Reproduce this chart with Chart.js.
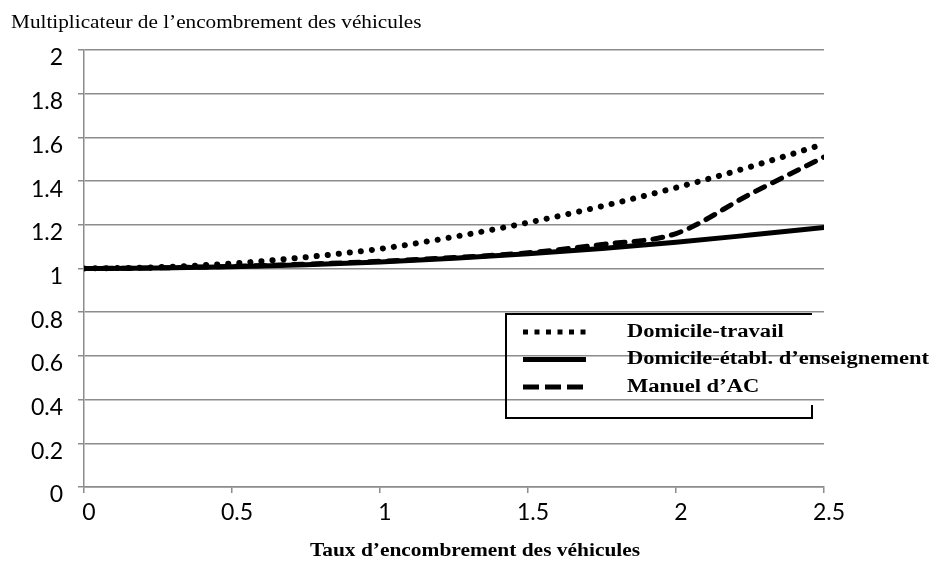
<!DOCTYPE html>
<html>
<head>
<meta charset="utf-8">
<script src="https://cdn.jsdelivr.net/npm/chart.js@4/dist/chart.umd.min.js"></script>
<style>
    html, body { margin: 0; padding: 0; background: #fff; }
    #wrap { width: 932px; height: 567px; position: relative; }
</style>
</head>
<body>
<div id="wrap"><canvas id="encombrementChart"></canvas></div>
<script>
const tauxEncombrement = [0, 0.25, 0.5, 0.75, 1, 1.25, 1.5, 1.75, 2, 2.25, 2.5];
const domicileTravail = [1, 1.006, 1.023, 1.052, 1.09, 1.145, 1.21, 1.285, 1.37, 1.465, 1.57];
const domicileEnseignement = [1, 1.002, 1.008, 1.017, 1.03, 1.047, 1.067, 1.092, 1.12, 1.153, 1.188];
const manuelAC = [1, 1.003, 1.01, 1.02, 1.033, 1.05, 1.072, 1.11, 1.16, 1.34, 1.51];
const seriesLabels = ['Domicile-travail', 'Domicile-établ. d\u2019enseignement', 'Manuel d\u2019AC'];
const xTickLabels = ['0', '0.5', '1', '1.5', '2', '2.5'];
const yTickLabels = ['0', '0.2', '0.4', '0.6', '0.8', '1', '1.2', '1.4', '1.6', '1.8', '2'];
const yTitle = 'Multiplicateur de l\u2019encombrement des véhicules';
const xTitle = 'Taux d\u2019encombrement des véhicules';

const gridColor = '#8c8c8c';
const tickFont = { family: "Lato, 'Open Sans', sans-serif", size: 23 };

function toPoints(values) {
    return tauxEncombrement.map((x, i) => ({ x: x, y: values[i] }));
}

// texte un peu étiré à l'horizontale, comme dans l'image d'origine
function stretchedText(ctx, text, x, y, sx) {
    ctx.save();
    ctx.translate(x, y);
    ctx.scale(sx, 1);
    ctx.fillText(text, 0, 0);
    ctx.restore();
}

const legendStyles = [
    { dash: [5, 6.5] },
    { dash: [] },
    { dash: [16, 6] }
];

// titres et légende dessinés à la main
const decorPlugin = {
    id: 'decor',
    afterDraw(chart) {
        const ctx = chart.ctx;
        ctx.save();
        ctx.fillStyle = '#000';
        ctx.textBaseline = 'middle';
        ctx.font = "18px 'Liberation Serif', serif";
        ctx.textAlign = 'left';
        stretchedText(ctx, yTitle, 11, 23, 1.18);
        ctx.font = "bold 18px 'Liberation Serif', serif";
        ctx.textAlign = 'center';
        stretchedText(ctx, xTitle, 475, 551, 1.19);

        // cadre de la légende (côté droit incomplet)
        const bx = 506, by = 314, bw = 306, bh = 104;
        ctx.strokeStyle = '#000';
        ctx.lineWidth = 2;
        ctx.beginPath();
        ctx.moveTo(bx + bw, by);
        ctx.lineTo(bx, by);
        ctx.lineTo(bx, by + bh);
        ctx.lineTo(bx + bw, by + bh);
        ctx.lineTo(bx + bw, by + bh - 13);
        ctx.stroke();

        chart.data.datasets.forEach((ds, i) => {
            const y = 332 + i * 27.5;
            ctx.save();
            ctx.strokeStyle = '#000';
            ctx.lineWidth = 5;
            ctx.lineCap = 'butt';
            ctx.setLineDash(legendStyles[i].dash);
            ctx.beginPath();
            ctx.moveTo(523, y);
            ctx.lineTo(586, y);
            ctx.stroke();
            ctx.restore();
            ctx.font = "bold 18.5px 'Liberation Serif', serif";
            ctx.textAlign = 'left';
            stretchedText(ctx, ds.label, 627, y, 1.22);
        });
        ctx.restore();
    }
};

const ctx = document.getElementById('encombrementChart').getContext('2d');
new Chart(ctx, {
    type: 'line',
    data: {
        datasets: [
            {
                label: seriesLabels[0],
                data: toPoints(domicileTravail),
                borderColor: '#000',
                borderWidth: 6,
                borderDash: [0.1, 11],
                borderCapStyle: 'round',
                cubicInterpolationMode: 'monotone',
                pointRadius: 0
            },
            {
                label: seriesLabels[1],
                data: toPoints(domicileEnseignement),
                borderColor: '#000',
                borderWidth: 5,
                borderCapStyle: 'round',
                cubicInterpolationMode: 'monotone',
                pointRadius: 0
            },
            {
                label: seriesLabels[2],
                data: toPoints(manuelAC),
                borderColor: '#000',
                borderWidth: 5,
                borderDash: [10, 9],
                borderCapStyle: 'round',
                cubicInterpolationMode: 'monotone',
                pointRadius: 0
            }
        ]
    },
    options: {
        responsive: true,
        maintainAspectRatio: false,
        animation: false,
        layout: { padding: { top: 50, right: 108, left: 0, bottom: 0 } },
        plugins: {
            legend: { display: false },
            tooltip: { enabled: false }
        },
        scales: {
            x: {
                type: 'linear',
                min: 0,
                max: 2.5,
                ticks: {
                    stepSize: 0.5,
                    color: '#000',
                    font: tickFont,
                    padding: 6,
                    labelOffset: 5,
                    maxRotation: 0,
                    callback: (v, i) => xTickLabels[i]
                },
                grid: { drawOnChartArea: false, drawTicks: true, tickLength: 6, color: gridColor, lineWidth: 1.5 },
                border: { display: true, color: gridColor, width: 1.5 },
                afterFit(scale) { scale.height = 80; }
            },
            y: {
                min: 0,
                max: 2,
                ticks: {
                    stepSize: 0.2,
                    color: '#000',
                    font: tickFont,
                    padding: 15,
                    labelOffset: 8,
                    callback: (v, i) => yTickLabels[i]
                },
                grid: { color: gridColor, lineWidth: 1.5, tickLength: 6 },
                border: { display: true, color: gridColor, width: 1.5 },
                afterFit(scale) { scale.width = 84; }
            }
        }
    },
    plugins: [decorPlugin]
});
</script>
</body>
</html>
